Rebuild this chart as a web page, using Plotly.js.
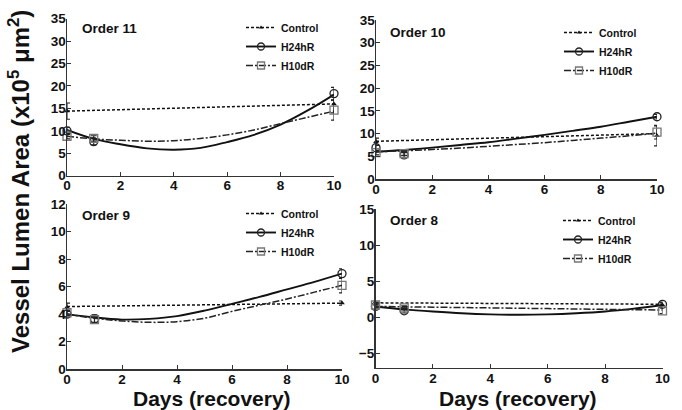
<!DOCTYPE html>
<html><head><meta charset="utf-8">
<script src="https://cdn.plot.ly/plotly-3.0.1.min.js"></script>
<style>html,body{margin:0;padding:0;background:#fff}#chart{width:682px;height:410px}</style>
</head><body><div id="chart"></div>
<script>
const seriesNames = ['Control', 'H24hR', 'H10dR'];
const panelTitles = ['Order 11', 'Order 10', 'Order 9', 'Order 8'];
const xTitle = 'Days (recovery)';
const yTitle = 'Vessel Lumen Area (x10<sup>5</sup> μm<sup>2</sup>)';

const days = [0, 1, 10];
const ctrlDays = [0, 10];
const fitDays = [0, 1, 2, 3, 4, 5, 6, 7, 8, 9, 10];
const ctrlFitDays = [0, 10];

// Order 11
const ctrl11 = [14.4, 16.0];
const ctrlErr11 = [1.8, 2.0];
const ctrlFit11 = [14.4, 16.0];
const h24_11 = [10.0, 7.6, 18.3];
const h24Err11 = [0.8, 0.7, 1.4];
const h24Fit11 = [10.2, 8.2, 7.0, 6.1, 5.8, 6.2, 7.5, 9.1, 11.4, 14.5, 18.1];
const h10_11 = [8.8, 8.3, 14.6];
const h10Err11 = [0.6, 0.6, 2.2];
const h10Fit11 = [8.8, 8.2, 7.9, 7.7, 7.8, 8.3, 9.1, 10.2, 11.6, 13.0, 14.4];

// Order 10
const ctrl10 = [8.2, 9.5];
const ctrlErr10 = [0.8, 2.2];
const ctrlFit10 = [8.3, 10.0];
const h24_10 = [6.9, 5.3, 13.7];
const h24Err10 = [0.6, 0.5, 0.5];
const h24Fit10 = [6.0, 6.4, 6.9, 7.5, 8.1, 8.9, 9.7, 10.6, 11.5, 12.6, 13.7];
const h10_10 = [5.8, 5.6, 10.3];
const h10Err10 = [0.5, 0.4, 1.5];
const h10Fit10 = [6.0, 6.2, 6.5, 6.8, 7.2, 7.6, 8.0, 8.5, 9.0, 9.5, 10.1];

// Order 9
const ctrl9 = [4.5, 4.8];
const ctrlErr9 = [0.3, 0.15];
const ctrlFit9 = [4.55, 4.8];
const h24_9 = [4.0, 3.65, 6.95];
const h24Err9 = [0.25, 0.3, 0.35];
const h24Fit9 = [4.0, 3.75, 3.6, 3.65, 3.85, 4.25, 4.75, 5.25, 5.8, 6.35, 6.95];
const h10_9 = [4.1, 3.6, 6.1];
const h10Err9 = [0.2, 0.2, 0.55];
const h10Fit9 = [4.0, 3.7, 3.5, 3.4, 3.45, 3.7, 4.2, 4.65, 5.1, 5.6, 6.1];

// Order 8
const ctrl8 = [1.8, 1.7];
const ctrlErr8 = [0.3, 0.3];
const ctrlFit8 = [2.0, 1.8];
const h24_8 = [1.5, 0.9, 1.8];
const h24Err8 = [0.3, 0.3, 0.3];
const h24Fit8 = [1.5, 1.1, 0.8, 0.55, 0.4, 0.35, 0.4, 0.55, 0.8, 1.2, 1.7];
const h10_8 = [1.7, 1.3, 0.9];
const h10Err8 = [0.3, 0.3, 0.4];
const h10Fit8 = [1.5, 1.45, 1.4, 1.35, 1.3, 1.25, 1.2, 1.15, 1.1, 1.05, 1.0];

const yTicks11 = [0, 5, 10, 15, 20, 25, 30, 35];
const yTicks10 = [0, 5, 10, 15, 20, 25, 30, 35];
const yTicks9 = [0, 2, 4, 6, 8, 10, 12];
const yTicks8 = [-5, 0, 5, 10, 15];
const xTicks = [0, 2, 4, 6, 8, 10];

const FONT = 'Liberation Sans, Arial, sans-serif';
const styles = [
  {dash: '3px,2px', width: 1.5, color: '#111', symbol: 'triangle-up', msize: 5, mcolor: '#111', mline: 0},
  {dash: 'solid', width: 1.9, color: '#111', symbol: 'circle-open', msize: 8, mcolor: '#222', mline: 1.3},
  {dash: '7px,2px,2px,2px', width: 1.5, color: '#222', symbol: 'square-open', msize: 8, mcolor: '#777', mline: 1.3}
];

const panels = [
  {ax: '', leg: 'legend', pts: [[ctrlDays, ctrl11, ctrlErr11], [days, h24_11, h24Err11], [days, h10_11, h10Err11]],
   fits: [[ctrlFitDays, ctrlFit11], [fitDays, h24Fit11], [fitDays, h10Fit11]]},
  {ax: '2', leg: 'legend2', pts: [[ctrlDays, ctrl10, ctrlErr10], [days, h24_10, h24Err10], [days, h10_10, h10Err10]],
   fits: [[ctrlFitDays, ctrlFit10], [fitDays, h24Fit10], [fitDays, h10Fit10]]},
  {ax: '3', leg: 'legend3', pts: [[ctrlDays, ctrl9, ctrlErr9], [days, h24_9, h24Err9], [days, h10_9, h10Err9]],
   fits: [[ctrlFitDays, ctrlFit9], [fitDays, h24Fit9], [fitDays, h10Fit9]]},
  {ax: '4', leg: 'legend4', pts: [[ctrlDays, ctrl8, ctrlErr8], [days, h24_8, h24Err8], [days, h10_8, h10Err8]],
   fits: [[ctrlFitDays, ctrlFit8], [fitDays, h24Fit8], [fitDays, h10Fit8]]}
];

const traces = [];
panels.forEach(p => {
  const xa = 'x' + p.ax, ya = 'y' + p.ax;
  for (let i = 0; i < 3; i++) {
    const s = styles[i];
    traces.push({type: 'scatter', mode: 'lines', x: p.fits[i][0], y: p.fits[i][1], xaxis: xa, yaxis: ya,
      line: {color: s.color, width: s.width, dash: s.dash, shape: 'spline'}, showlegend: false, hoverinfo: 'skip'});
    traces.push({type: 'scatter', mode: 'markers', x: p.pts[i][0], y: p.pts[i][1], xaxis: xa, yaxis: ya, cliponaxis: false,
      marker: {symbol: s.symbol, size: s.msize, color: s.mcolor, line: {color: s.mcolor, width: s.mline}},
      error_y: {type: 'data', array: p.pts[i][2], visible: true, color: '#222', thickness: 1.1, width: 3},
      showlegend: false});
    traces.push({type: 'scatter', mode: 'lines+markers', x: [null], y: [null], xaxis: xa, yaxis: ya, name: seriesNames[i],
      legend: p.leg, line: {color: s.color, width: s.width, dash: s.dash},
      marker: {symbol: s.symbol, size: s.msize - 1, color: s.mcolor, line: {color: s.mcolor, width: s.mline}}});
  }
});

const tickFont = {family: FONT, size: 13.5, weight: 700, color: '#111'};
function xAxis(domain, anchor) {
  return {domain: domain, anchor: anchor, range: [0, 10], tickvals: xTicks, ticks: 'inside', ticklen: 4,
    tickcolor: '#333', showline: true, linecolor: '#333', linewidth: 1.5, showgrid: false, zeroline: false,
    ticklabelstandoff: -3, tickfont: tickFont};
}
function yAxis(domain, anchor, range, ticks) {
  return {domain: domain, anchor: anchor, range: range, tickvals: ticks, ticks: 'inside', ticklen: 4,
    tickcolor: '#333', showline: true, linecolor: '#333', linewidth: 1.5, showgrid: false, zeroline: false,
    ticklabelstandoff: -3, tickfont: tickFont};
}
const W = 682, H = 410;
const px = v => v / W, py = v => 1 - v / H;

function legendAt(left, top) {
  return {x: px(left), y: py(top), xanchor: 'left', yanchor: 'top', bgcolor: 'rgba(0,0,0,0)',
    font: {family: FONT, size: 10.5, weight: 700, color: '#111'}, tracegroupgap: 0, itemwidth: 30};
}

const titleFont = {family: FONT, size: 13.5, weight: 700, color: '#111'};
const bigFont = {family: FONT, size: 21, weight: 700, color: '#111'};
const layout = {
  width: W, height: H, margin: {l: 0, r: 0, t: 0, b: 0},
  paper_bgcolor: '#fff', plot_bgcolor: '#fff', showlegend: true,
  xaxis: xAxis([px(67), px(334)], 'y'),
  yaxis: yAxis([py(175.7), py(18.7)], 'x', [0, 35], yTicks11),
  xaxis2: xAxis([px(376), px(657)], 'y2'),
  yaxis2: yAxis([py(179), py(20)], 'x2', [0, 35], yTicks10),
  xaxis3: xAxis([px(67), px(342)], 'y3'),
  yaxis3: yAxis([py(369), py(204.3)], 'x3', [0, 12], yTicks9),
  xaxis4: xAxis([px(375.5), px(662.5)], 'y4'),
  yaxis4: yAxis([py(367.8), py(209)], 'x4', [-7, 15], yTicks8),
  legend: legendAt(241, 13),
  legend2: legendAt(559, 18),
  legend3: legendAt(241, 199),
  legend4: legendAt(558, 206),
  annotations: [
    {text: panelTitles[0], x: px(80), y: py(29), xref: 'paper', yref: 'paper', xanchor: 'left', yanchor: 'middle', showarrow: false, font: titleFont},
    {text: panelTitles[1], x: px(388), y: py(33), xref: 'paper', yref: 'paper', xanchor: 'left', yanchor: 'middle', showarrow: false, font: titleFont},
    {text: panelTitles[2], x: px(80), y: py(215), xref: 'paper', yref: 'paper', xanchor: 'left', yanchor: 'middle', showarrow: false, font: titleFont},
    {text: panelTitles[3], x: px(388), y: py(220), xref: 'paper', yref: 'paper', xanchor: 'left', yanchor: 'middle', showarrow: false, font: titleFont},
    {text: xTitle, x: px(212), y: py(398), xref: 'paper', yref: 'paper', xanchor: 'center', yanchor: 'middle', showarrow: false, font: bigFont},
    {text: xTitle, x: px(518), y: py(398), xref: 'paper', yref: 'paper', xanchor: 'center', yanchor: 'middle', showarrow: false, font: bigFont},
    {text: yTitle, x: px(19), y: py(182), xref: 'paper', yref: 'paper', xanchor: 'center', yanchor: 'middle', showarrow: false, textangle: -90,
     font: {family: FONT, size: 24, weight: 700, color: '#111'}}
  ]
};
Plotly.newPlot('chart', traces, layout, {displayModeBar: false, staticPlot: true});
</script></body></html>
